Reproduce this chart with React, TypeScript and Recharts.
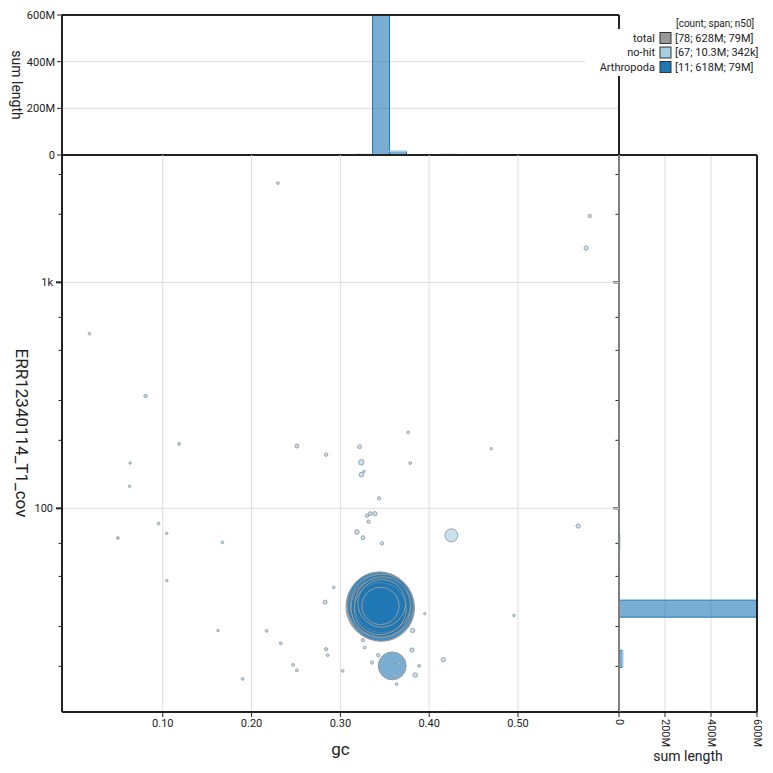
import React from 'react';
import {
  Bar,
  BarChart,
  CartesianGrid,
  ReferenceLine,
  Scatter,
  ScatterChart,
  XAxis,
  YAxis,
  ZAxis
} from 'recharts';

const SIZE = 773;
const FONT = 'Roboto, "Noto Sans", sans-serif';
const INK = '#222';
const GRID = '#dddddd';
const NOHIT = '#a6cee3';
const ARTH = '#1f78b4';

// axes
const gcDomain = [-0.0135, 0.6138];
const covDomain = [12.56, 3659];
const lenDomain = [0, 600]; // Mb
const gcTicks = [0.1, 0.2, 0.3, 0.4, 0.5];
const covTicks = [20, 30, 40, 50, 60, 70, 80, 90, 100, 200, 300, 400, 500, 600, 700, 800, 900, 1000, 2000, 3000];
const covLabels: Record<number, string> = { 100: '100', 1000: '1k' };
const lenTicks = [0, 200, 400, 600];

// Arthropoda contigs (length in Mb)
const arthGc = [0.343, 0.3446, 0.3461, 0.344, 0.3469, 0.3455, 0.3476, 0.3449, 0.3465, 0.3452, 0.3584];
const arthCov = [35.2, 36.8, 36.2, 37.6, 37.1, 36.4, 37.5, 36.0, 38.0, 37.0, 20.1];
const arthLen = [1, 92, 88, 84, 79, 70, 62, 54, 45, 27.5, 15.5];

// no-hit contigs (length in Mb)
const nohitGc = [
  0.2296, 0.0176, 0.0806, 0.1183, 0.251, 0.284, 0.5809, 0.5768, 0.3764, 0.3217,
  0.47, 0.3236, 0.3787, 0.3266, 0.3236, 0.3435, 0.33, 0.3337, 0.339, 0.3318,
  0.3187, 0.3255, 0.3468, 0.425, 0.5678, 0.0633, 0.0626, 0.0952, 0.1045, 0.0494,
  0.1671, 0.1045, 0.2925, 0.2828, 0.1622, 0.2169, 0.2329, 0.2839, 0.2857, 0.2468,
  0.251, 0.1899, 0.3951, 0.3813, 0.3255, 0.3273, 0.3806, 0.3427, 0.3356, 0.3663,
  0.3607, 0.3888, 0.416, 0.3843, 0.3026, 0.3633, 0.4955
];
const nohitCov = [
  2749, 593, 314, 193, 188.7, 172.8, 1965, 1418, 216.9, 187.5,
  183.7, 159.8, 158.6, 145.8, 141, 110.7, 92.8, 94.7, 94.7, 87.3,
  78.6, 74.2, 70, 76, 83.5, 158.6, 125.1, 85.8, 77.5, 73.9,
  70.7, 47.9, 44.7, 38.5, 28.8, 28.7, 25.3, 23.8, 22.4, 20.3,
  19.2, 17.6, 34.2, 28.8, 26.1, 24.2, 23.6, 22.4, 20.8, 20.6,
  18.3, 20.1, 21.4, 18.3, 19.1, 16.7, 33.6
];
const nohitLen = [
  0.15, 0.15, 0.22, 0.15, 0.3, 0.22, 0.22, 0.36, 0.15, 0.3,
  0.12, 0.6, 0.15, 0.12, 0.42, 0.22, 0.22, 0.3, 0.36, 0.22,
  0.42, 0.3, 0.22, 3.3, 0.36, 0.12, 0.12, 0.15, 0.12, 0.15,
  0.15, 0.12, 0.15, 0.3, 0.12, 0.15, 0.15, 0.22, 0.15, 0.15,
  0.15, 0.15, 0.12, 0.36, 0.22, 0.15, 0.36, 0.22, 0.22, 0.22,
  0.22, 0.15, 0.36, 0.42, 0.15, 0.15, 0.12
];

// gc histogram (bin mid points, sum length in Mb)
const gcBinMid = [
  0.0211, 0.0402, 0.0593, 0.0784, 0.0975, 0.1166, 0.1548, 0.1739, 0.193, 0.2121,
  0.2312, 0.2503, 0.2885, 0.3076, 0.3267, 0.3458, 0.3649, 0.384, 0.4031, 0.4222,
  0.4604, 0.4986, 0.575
];
const gcBinArth = [0, 0, 0, 0, 0, 0, 0, 0, 0, 0, 0, 0, 0, 0, 0, 602.5, 15.5, 0, 0, 0, 0, 0, 0];
const gcBinNohit = [
  0.15, 0.15, 0.24, 0.22, 0.39, 0.15, 0.12, 0.15, 0.15, 0.15,
  0.3, 0.6, 1.0, 0.15, 3.6, 1.0, 0.6, 1.6, 0.12, 3.7,
  0.12, 0.12, 0.95
];

// coverage histogram (bin mid points, sum length in Mb)
const covBinMid = [
  15.38, 18.24, 21.63, 25.64, 30.41, 36.06, 42.76, 50.7, 60.12, 71.29,
  84.53, 100.2, 118.9, 140.9, 167.1, 198.2, 235.0, 330.4, 552.1, 1538, 1824, 2564
];
const covBinArth = [0, 0, 15.5, 0, 0, 602.5, 0, 0, 0, 0, 0, 0, 0, 0, 0, 0, 0, 0, 0, 0, 0, 0];
const covBinNohit = [
  0.15, 1.1, 1.6, 0.95, 0.63, 0.52, 0.15, 0.12, 0, 4.3,
  1.1, 0.9, 0.34, 0.54, 1.05, 0.87, 0.15, 0.22, 0.15, 0.36, 0.22, 0.15
];

// legend
const keyNames = ['total', 'no-hit', 'Arthropoda'];
const keyColors = ['#999999', NOHIT, ARTH];
const keyStats = ['[78; 628M; 79M]', '[67; 10.3M; 342k]', '[11; 618M; 79M]'];

const arthData = arthGc.map((gc, i) => ({ gc, cov: arthCov[i], len: arthLen[i] }));
const nohitData = nohitGc.map((gc, i) => ({ gc, cov: nohitCov[i], len: nohitLen[i] }));
const gcHist = gcBinMid.map((gc, i) => ({ gc, arth: gcBinArth[i], nohit: gcBinNohit[i] }));
const covHist = covBinMid.map((cov, i) => ({ cov, arth: covBinArth[i], nohit: covBinNohit[i] }));

const lenFmt = (v: number) => (v === 0 ? '0' : `${v}M`);

const CovTick = ({ x, y, payload, showLabel }: any) => {
  const label = covLabels[payload.value];
  return (
    <g>
      <line x1={x - (label ? 6 : 3.5)} x2={x} y1={y} y2={y} stroke={INK} strokeWidth={label ? 2 : 1} />
      {showLabel && label && (
        <text x={x - 9} y={y} textAnchor="end" dominantBaseline="central" fontSize={11} fill={INK}>
          {label}
        </text>
      )}
    </g>
  );
};

const LenTickDown = ({ x, y, payload }: any) => (
  <text
    x={x}
    y={y}
    transform={`rotate(90, ${x}, ${y})`}
    textAnchor="start"
    dominantBaseline="central"
    fontSize={11}
    fill={INK}
  >
    {lenFmt(payload.value)}
  </text>
);

const Title = ({ x, y, text, size, rotate }: any) => (
  <text
    x={x}
    y={y}
    textAnchor="middle"
    dominantBaseline="central"
    fontSize={size}
    fill={INK}
    transform={rotate ? `rotate(90, ${x}, ${y})` : undefined}
  >
    {text}
  </text>
);

const KeyBox = () => (
  <svg width={SIZE} height={SIZE} style={{ position: 'absolute', left: 0, top: 0 }}>
    <rect x={585} y={29} width={188} height={47} fill="#fff" />
    <text x={676} y={23} fontSize={10} dominantBaseline="central" fill={INK}>
      [count; span; n50]
    </text>
    {keyNames.map((name, i) => {
      const y = 38 + i * 14.5;
      return (
        <g key={name}>
          <text x={655} y={y} textAnchor="end" dominantBaseline="central" fontSize={11} fill={INK}>
            {name}
          </text>
          <rect x={660} y={y - 5.5} width={11} height={11} fill={keyColors[i]} stroke="#333" />
          <text x={675} y={y} dominantBaseline="central" fontSize={11} fill={INK}>
            {keyStats[i]}
          </text>
        </g>
      );
    })}
  </svg>
);

const layer: React.CSSProperties = { position: 'absolute', left: 0, top: 0 };

export default function App() {
  return (
    <div
      style={{
        position: 'absolute',
        left: 0,
        top: 0,
        width: SIZE,
        height: SIZE,
        background: '#fff',
        fontFamily: FONT
      }}
    >
      {/* coverage histogram, right */}
      <div style={layer}>
        <BarChart
          width={SIZE}
          height={SIZE}
          data={covHist}
          layout="vertical"
          barCategoryGap={0}
          margin={{ top: 155, right: 16, bottom: 31, left: 609 }}
        >
          <CartesianGrid stroke={GRID} horizontal={false} />
          <XAxis
            type="number"
            domain={lenDomain}
            allowDataOverflow
            ticks={lenTicks}
            height={30}
            tick={<LenTickDown />}
            tickSize={5}
            axisLine={{ stroke: INK, strokeWidth: 2 }}
            tickLine={{ stroke: INK }}
            label={() => <Title x={688} y={756} text="sum length" size={14} />}
          />
          <YAxis
            type="number"
            dataKey="cov"
            scale="log"
            domain={covDomain}
            allowDataOverflow
            reversed
            ticks={covTicks}
            width={10}
            tickSize={0}
            tickMargin={0}
            tickLine={false}
            tick={(p: any) => <CovTick {...p} showLabel={false} />}
            axisLine={{ stroke: INK, strokeWidth: 2 }}
          />
          <Bar dataKey="arth" stackId="s" fill={ARTH} fillOpacity={0.6} stroke={ARTH} isAnimationActive={false} />
          <Bar dataKey="nohit" stackId="s" fill={NOHIT} fillOpacity={0.6} stroke={NOHIT} isAnimationActive={false} />
          <ReferenceLine x={600} stroke={INK} strokeWidth={2} ifOverflow="visible" />
          <ReferenceLine y={covDomain[1]} stroke={INK} strokeWidth={2} ifOverflow="visible" />
        </BarChart>
      </div>

      {/* gc histogram, top */}
      <div style={layer}>
        <BarChart
          width={SIZE}
          height={SIZE}
          data={gcHist}
          barCategoryGap={0}
          margin={{ top: 15, right: 154, bottom: 588, left: 12 }}
        >
          <CartesianGrid stroke={GRID} />
          <XAxis
            type="number"
            dataKey="gc"
            domain={gcDomain}
            allowDataOverflow
            ticks={gcTicks}
            height={30}
            tick={false}
            tickSize={5}
            axisLine={{ stroke: INK, strokeWidth: 2 }}
            tickLine={{ stroke: INK }}
          />
          <YAxis
            type="number"
            domain={lenDomain}
            allowDataOverflow
            ticks={lenTicks}
            width={50}
            tickSize={5}
            tickFormatter={lenFmt}
            tick={{ fontSize: 11, fill: INK }}
            axisLine={{ stroke: INK, strokeWidth: 2 }}
            tickLine={{ stroke: INK }}
            label={() => <Title x={17} y={85} text="sum length" size={14} rotate />}
          />
          <Bar dataKey="arth" stackId="s" fill={ARTH} fillOpacity={0.6} stroke={ARTH} isAnimationActive={false} />
          <Bar dataKey="nohit" stackId="s" fill={NOHIT} fillOpacity={0.6} stroke={NOHIT} isAnimationActive={false} />
          <ReferenceLine y={600} stroke={INK} strokeWidth={2} ifOverflow="visible" />
          <ReferenceLine x={gcDomain[1]} stroke={INK} strokeWidth={2} ifOverflow="visible" />
        </BarChart>
      </div>

      {/* blob plot */}
      <div style={layer}>
        <ScatterChart width={SIZE} height={SIZE} margin={{ top: 155, right: 154, bottom: 21, left: 12 }}>
          <CartesianGrid stroke={GRID} horizontal={false} />
          <ReferenceLine y={100} stroke={GRID} />
          <ReferenceLine y={1000} stroke={GRID} />
          <XAxis
            type="number"
            dataKey="gc"
            domain={gcDomain}
            allowDataOverflow
            ticks={gcTicks}
            height={40}
            tickSize={5}
            tickFormatter={(v: number) => v.toFixed(2)}
            tick={{ fontSize: 11, fill: INK }}
            axisLine={{ stroke: INK, strokeWidth: 2 }}
            tickLine={{ stroke: INK }}
            label={() => <Title x={340.5} y={749} text="gc" size={17} />}
          />
          <YAxis
            type="number"
            dataKey="cov"
            scale="log"
            domain={covDomain}
            allowDataOverflow
            ticks={covTicks}
            width={50}
            tickSize={0}
            tickMargin={0}
            tickLine={false}
            tick={(p: any) => <CovTick {...p} showLabel />}
            axisLine={{ stroke: INK, strokeWidth: 2 }}
            label={() => <Title x={22} y={433} text="ERR12340114_T1_cov" size={17} rotate />}
          />
          <ZAxis type="number" dataKey="len" domain={[0, 92]} range={[0, Math.PI * 34 * 34]} />
          <Scatter
            data={arthData}
            fill={ARTH}
            fillOpacity={0.6}
            stroke="#999"
            strokeWidth={1}
            isAnimationActive={false}
          />
          <Scatter
            data={nohitData}
            fill={NOHIT}
            fillOpacity={0.6}
            stroke="#8f9ba3"
            strokeWidth={0.9}
            isAnimationActive={false}
          />
        </ScatterChart>
      </div>

      <KeyBox />
    </div>
  );
}
